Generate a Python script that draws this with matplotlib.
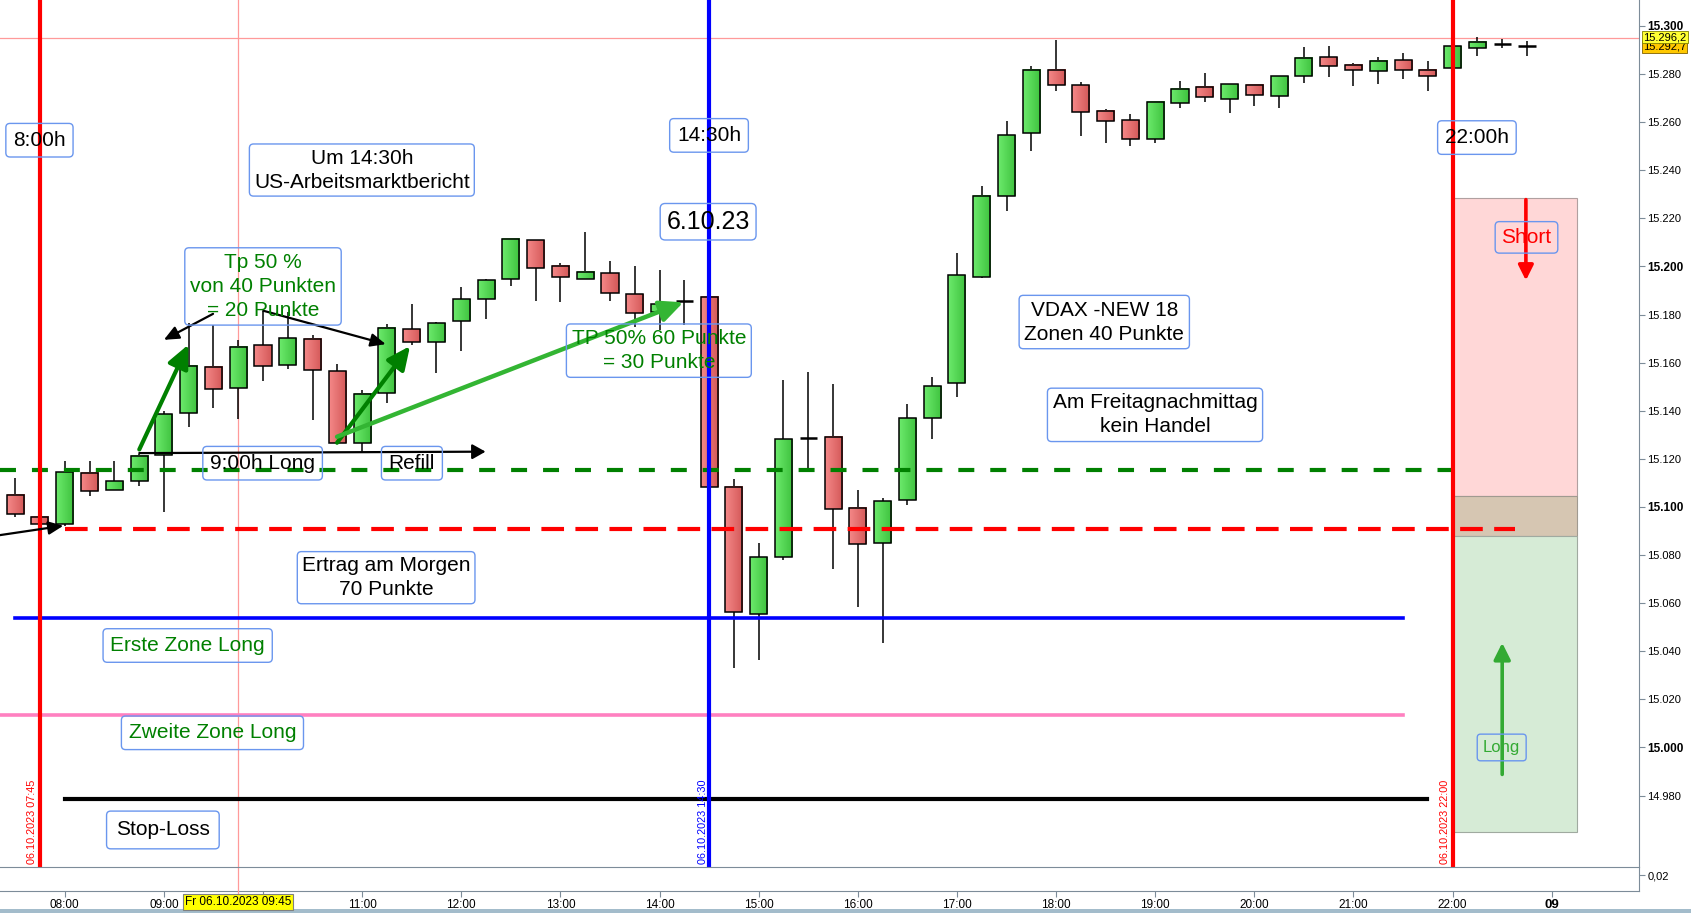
import matplotlib
matplotlib.use("Agg")
import matplotlib.pyplot as plt
import matplotlib.transforms as mtransforms
from matplotlib.patches import Rectangle
from matplotlib.lines import Line2D
from matplotlib.colors import LinearSegmentedColormap
import numpy as np

plt.rcParams['lines.scale_dashes'] = False
plt.rcParams['font.family'] = ['Liberation Sans', 'DejaVu Sans']

# ---------------- data (15-min candles, 06.10.2023) ----------------
times = ["07:30", "07:45", "08:00", "08:15", "08:30", "08:45", "09:00", "09:15",
         "09:30", "09:45", "10:00", "10:15", "10:30", "10:45", "11:00", "11:15",
         "11:30", "11:45", "12:00", "12:15", "12:30", "12:45", "13:00", "13:15",
         "13:30", "13:45", "14:00", "14:15", "14:30", "14:45", "15:00", "15:15",
         "15:30", "15:45", "16:00", "16:15", "16:30", "16:45", "17:00", "17:15",
         "17:30", "17:45", "18:00", "18:15", "18:30", "18:45", "19:00", "19:15",
         "19:30", "19:45", "20:00", "20:15", "20:30", "20:45", "21:00", "21:15",
         "21:30", "21:45", "22:00", "22:15", "22:30", "22:45"]
opens = [15105, 15096, 15093, 15114, 15107, 15110.6, 15121.7, 15139,
         15158.3, 15149.3, 15167.2, 15158.9, 15169.7, 15156.4, 15126.4, 15147.2,
         15173.8, 15168.8, 15177.2, 15186.3, 15194.6, 15210.8, 15200.4, 15194.6,
         15197.1, 15188.4, 15181.0, 15185.5, 15187.5, 15108.5, 15055.7, 15079.4,
         15128.8, 15129.3, 15099.4, 15084.9, 15102.9, 15137.2, 15151.4, 15195.7,
         15229.5, 15255.3, 15281.9, 15275.3, 15264.6, 15260.9, 15252.8, 15267.8,
         15274.5, 15269.5, 15275.3, 15270.7, 15279.0, 15286.9, 15283.6, 15281.1,
         15285.7, 15281.5, 15282.4, 15290.7, 15292.6, 15291.6]
highs = [15112, 15096.5, 15119, 15119, 15119, 15122, 15140, 15176.3,
         15175.6, 15169.4, 15181.6, 15181.2, 15171.5, 15159.4, 15148.6, 15176.1,
         15184.4, 15177, 15191.3, 15194.8, 15211.5, 15210.9, 15201.6, 15214.3,
         15202.1, 15200.2, 15198.5, 15194.3, 15187.5, 15111.5, 15084.9, 15152.8,
         15156.0, 15151.1, 15107.0, 15103.6, 15142.8, 15154.0, 15205.6, 15233.6,
         15260.5, 15283.3, 15294.1, 15276.7, 15265.4, 15263.4, 15268.6, 15277.1,
         15280.4, 15276.0, 15275.5, 15279.2, 15291.2, 15291.6, 15284.6, 15287.1,
         15288.7, 15285.3, 15291.5, 15295.3, 15294.6, 15293.6]
lows = [15096, 15093, 15092, 15104.7, 15107, 15108.8, 15098, 15133.4,
        15141.3, 15136.4, 15152.5, 15157.5, 15136.1, 15126.2, 15122.6, 15143.4,
        15167.3, 15155.8, 15165.0, 15178.3, 15192.0, 15185.8, 15185.3, 15194.6,
        15185.8, 15174.9, 15173.6, 15175.6, 15108.1, 15033.2, 15036.3, 15078.1,
        15115.9, 15074.3, 15058.5, 15043.5, 15100.9, 15128.4, 15145.8, 15195.4,
        15223.2, 15248.1, 15273.1, 15254.2, 15251.2, 15250.2, 15251.4, 15265.9,
        15268.2, 15263.9, 15266.8, 15266.0, 15276.4, 15278.9, 15275.1, 15276.0,
        15277.9, 15273.1, 15282.4, 15287.6, 15290.9, 15287.6]
closes = [15097, 15093, 15114.4, 15106.5, 15110.6, 15121.4, 15138.5, 15158.7,
          15148.9, 15166.6, 15158.5, 15170.1, 15156.8, 15126.7, 15146.8, 15174.3,
          15168.4, 15176.7, 15186.3, 15194.2, 15211.3, 15199.2, 15195.5, 15197.9,
          15188.8, 15180.5, 15184.2, 15185.5, 15108.1, 15056.2, 15079.0, 15128.1,
          15128.8, 15099.0, 15084.4, 15102.3, 15136.8, 15150.1, 15196.3, 15229.5,
          15254.5, 15281.9, 15275.3, 15264.1, 15260.3, 15253.2, 15268.4, 15274.0,
          15270.3, 15275.7, 15271.1, 15279.0, 15286.5, 15283.2, 15281.5, 15285.3,
          15281.9, 15279.0, 15291.5, 15293.2, 15292.6, 15291.6]

price_ticks = list(range(14980, 15301, 20))
hour_ticks = [8, 9, 10, 11, 12, 13, 14, 15, 16, 17, 18, 19, 20, 21, 22, 23]
# the 10:00 label is hidden behind the crosshair date label in the original
hour_labels = ["08:00", "09:00", "", "11:00", "12:00", "13:00", "14:00",
               "15:00", "16:00", "17:00", "18:00", "19:00", "20:00", "21:00",
               "22:00", "09"]

level_long = 15115.2      # green dashed
level_short = 15090.8     # red dashed
zone_first = 15053.9      # blue
zone_second = 15013.5     # pink
stop_loss = 14978.5       # black
cross_price = 15295.1
short_zone = (15104.5, 15228.3)
mixed_zone = (15088.0, 15104.5)
long_zone = (14965.0, 15088.0)


def hh(t):
    h, m = t.split(":")
    return int(h) + int(m) / 60.0


W, H = 1691, 913
fig = plt.figure(figsize=(W / 100, H / 100), dpi=100)
fig.patch.set_facecolor("white")
ax = fig.add_axes([0, 46 / H, 1639 / W, 867 / H])
sub = fig.add_axes([0, 22 / H, 1639 / W, 24 / H], sharex=ax)

XL = (7.347, 23.88)
YL = (14950.3, 15310.8)

# --- zones ---
zx0, zx1 = 22.0, 23.25
ax.add_patch(Rectangle((zx0, short_zone[0]), zx1 - zx0, short_zone[1] - short_zone[0],
                       fc="#ffd7d7", ec="#b0a0a0", lw=0.8, zorder=1))
ax.add_patch(Rectangle((zx0, mixed_zone[0]), zx1 - zx0, mixed_zone[1] - mixed_zone[0],
                       fc="#d6c6b2", ec="#a09a90", lw=0.8, zorder=1))
ax.add_patch(Rectangle((zx0, long_zone[0]), zx1 - zx0, long_zone[1] - long_zone[0],
                       fc="#d6ebd6", ec="#a0aaa0", lw=0.8, zorder=1))

# --- candles ---
green_cmap = LinearSegmentedColormap.from_list("g", ["#6cea6c", "#3ec23e"])
red_cmap = LinearSegmentedColormap.from_list("r", ["#f58888", "#d35858"])
grad = np.linspace(0, 1, 32).reshape(1, -1)
w = 0.172
for t, o, h, l, c in zip(times, opens, highs, lows, closes):
    x = hh(t)
    ax.vlines(x, l, h, color="black", lw=1.1, zorder=3)
    if abs(c - o) < 0.3:
        ax.hlines(o, x - w / 2, x + w / 2, color="black", lw=1.8, zorder=4)
    else:
        lo, hi = min(o, c), max(o, c)
        cm = green_cmap if c > o else red_cmap
        ax.imshow(grad, extent=(x - w / 2, x + w / 2, lo, hi), aspect="auto",
                  cmap=cm, zorder=4, interpolation="bilinear")
        ax.add_patch(Rectangle((x - w / 2, lo), w, hi - lo, fill=False,
                               ec="black", lw=1.1, zorder=5))

# --- horizontal levels ---
ax.plot([XL[0], 22.0], [level_long] * 2, color="#008000", lw=3.0,
        dashes=(11.5, 11.5), zorder=6)
ax.plot([8.0, 22.63], [level_short] * 2, color="#ff0000", lw=3.0,
        dashes=(16.3, 8.2), zorder=6)
ax.plot([7.5, 21.5], [zone_first] * 2, color="#0000ff", lw=2.6, zorder=6)
ax.plot([XL[0], 21.5], [zone_second] * 2, color="#ff80c0", lw=2.6, zorder=6)
ax.plot([8.0, 21.74], [stop_loss] * 2, color="black", lw=3.0, zorder=6)
ax.axhline(cross_price, color="#ff9a9a", lw=0.9, zorder=2)

# --- vertical lines ---
ax.axvline(7.75, color="#ff0000", lw=3.0, zorder=7)
ax.axvline(14.5, color="#0000ff", lw=3.0, zorder=7)
ax.axvline(22.0, color="#ff0000", lw=3.0, zorder=7)
ax.axvline(9.75, color="#ff9a9a", lw=0.9, zorder=2)
sub.axvline(9.75, color="#ff9a9a", lw=0.9, zorder=2)
fig.add_artist(Line2D([238.3 / W] * 2, [19 / H, 22 / H], transform=fig.transFigure,
                      color="#ff9a9a", lw=0.9))

# rotated date labels
for xv, s, col, dx in [(7.75, "06.10.2023 07:45", "#ff0000", -8),
                       (14.5, "06.10.2023 14:30", "#0000ff", -6),
                       (22.0, "06.10.2023 22:00", "#ff0000", -8)]:
    tr = mtransforms.offset_copy(ax.transData, fig=fig, x=dx, y=3, units="dots")
    ax.text(xv, YL[0], s, rotation=90, color=col, fontsize=7.8, ha="center",
            va="bottom", transform=tr, zorder=6.5)

# --- arrows ---
def arrow(tail, tip, color, lw, hl, hw, z=9):
    ax.annotate("", xy=tip, xytext=tail,
                arrowprops=dict(arrowstyle=f"-|>,head_length={hl},head_width={hw}",
                                color=color, lw=lw, shrinkA=0, shrinkB=0,
                                mutation_scale=10),
                zorder=z)

arrow((7.347, 15088.3), (7.986, 15092.2), "black", 1.6, 0.9, 0.4)
arrow((8.752, 15122.4), (12.245, 15123.0), "black", 1.6, 0.8, 0.45)
arrow((9.496, 15180.3), (9.0, 15169.5), "black", 1.6, 0.9, 0.4)
arrow((10.003, 15181.6), (11.238, 15167.7), "black", 1.6, 0.9, 0.4)
arrow((8.752, 15123.9), (9.247, 15167.5), "#008000", 3.0, 1.4, 0.65)
arrow((10.747, 15126.7), (11.483, 15166.9), "#008000", 3.0, 1.4, 0.65)
arrow((10.747, 15129.2), (14.24, 15185.1), "#33b533", 3.2, 1.4, 0.65)
arrow((22.739, 15227.8), (22.739, 15194.2), "#ff0000", 2.6, 0.9, 0.45)
arrow((22.5, 14988.8), (22.5, 15043.5), "#33aa33", 2.6, 1.0, 0.5)

# --- text boxes ---
def tbox(x, y, s, color="black", fs=15, pad=0.3):
    ax.text(x, y, s, ha="center", va="center", color=color, fontsize=fs,
            multialignment="center", linespacing=1.33, zorder=10,
            bbox=dict(boxstyle=f"round,pad={pad},rounding_size=0.2", fc="none",
                      ec="#6a96ee", lw=1.0))

tbox(7.745, 15252.5, "8:00h", pad=0.35)
tbox(10.997, 15240.1, "Um 14:30h\nUS-Arbeitsmarktbericht", pad=0.22)
tbox(14.499, 15254.5, "14:30h", pad=0.35)
tbox(14.49, 15218.6, "6.10.23", fs=18, pad=0.25)
tbox(10.0, 15191.7, "Tp 50 %\nvon 40 Punkten\n= 20 Punkte", color="#008000", pad=0.25)
tbox(13.993, 15165.0, "TP 50% 60 Punkte\n= 30 Punkte", color="#008000", pad=0.25)
tbox(9.996, 15118.2, "9:00h Long", pad=0.35)
tbox(11.502, 15118.2, "Refill", pad=0.35)
tbox(18.486, 15176.9, "VDAX -NEW 18\nZonen 40 Punkte", pad=0.25)
tbox(18.998, 15138.3, "Am Freitagnachmittag\nkein Handel", pad=0.25)
tbox(22.245, 15253.6, "22:00h", pad=0.35)
tbox(22.745, 15212.1, "Short", color="#ff0000", pad=0.3)
tbox(22.495, 15000.0, "Long", color="#33aa33", fs=12, pad=0.35)
tbox(11.242, 15070.6, "Ertrag am Morgen\n70 Punkte", pad=0.22)
tbox(9.24, 15042.4, "Erste Zone Long", pad=0.35, color="#008000")
tbox(9.49, 15006.1, "Zweite Zone Long", pad=0.35, color="#008000")
tbox(8.99, 14965.7, "Stop-Loss", pad=0.45)

# --- axes styling ---
ax.set_xlim(*XL)
ax.set_ylim(*YL)
axis_col = "#7d8c99"
for sp in ["top", "left", "bottom"]:
    ax.spines[sp].set_visible(False)
ax.spines["right"].set_color(axis_col)
ax.yaxis.tick_right()
ax.set_yticks(price_ticks)
ax.set_yticklabels([f"{v:,}".replace(",", ".") for v in price_ticks])
ax.tick_params(axis="y", direction="out", length=4, color=axis_col, labelsize=8,
               pad=2, labelcolor="black")
for lab, v in zip(ax.get_yticklabels(), price_ticks):
    if v % 100 == 0:
        lab.set_fontweight("bold")
        lab.set_fontsize(8.5)
ax.tick_params(axis="x", which="both", bottom=False, labelbottom=False)

sub.set_ylim(0, 0.03)
sub.spines["left"].set_visible(False)
for sp in ["top", "right", "bottom"]:
    sub.spines[sp].set_color(axis_col)
sub.yaxis.tick_right()
sub.set_yticks([0.02])
sub.set_yticklabels(["0,02"])
sub.tick_params(axis="y", direction="out", length=4, color=axis_col, labelsize=8, pad=2)
sub.set_xticks(hour_ticks)
sub.set_xticklabels(hour_labels)
sub.tick_params(axis="x", direction="out", length=4, color=axis_col, labelsize=8.5, pad=2)
for lab in sub.get_xticklabels():
    lab.set_family(["Liberation Sans Narrow", "Liberation Sans", "DejaVu Sans"])
last = sub.get_xticklabels()[-1]
last.set_fontweight("bold")
last.set_fontsize(9.5)
sub.set_xlim(*XL)

# bottom bar
fig.add_artist(Rectangle((0, 0), 1, 4 / H, transform=fig.transFigure,
                         fc="#a3bccb", ec="none"))

# crosshair labels
fig.text(238.3 / W, (H - 902) / H, "Fr 06.10.2023 09:45", ha="center", va="center",
         fontsize=8.5, family=["Liberation Sans Narrow", "Liberation Sans"], zorder=20,
         bbox=dict(boxstyle="square,pad=0.15", fc="#ffff00", ec="#808080", lw=0.8))
fig.text(1643 / W, (H - 46.5) / H, "15.292,7", ha="left", va="center", fontsize=8,
         zorder=20, bbox=dict(boxstyle="square,pad=0.12", fc="#ffc800", ec="#806000", lw=0.6))
fig.text(1643 / W, (H - 37) / H, "15.296,2", ha="left", va="center", fontsize=8,
         zorder=21, bbox=dict(boxstyle="square,pad=0.12", fc="#ffff33", ec="#808000", lw=0.6))

fig.savefig("out.png", dpi=100, facecolor="white")
